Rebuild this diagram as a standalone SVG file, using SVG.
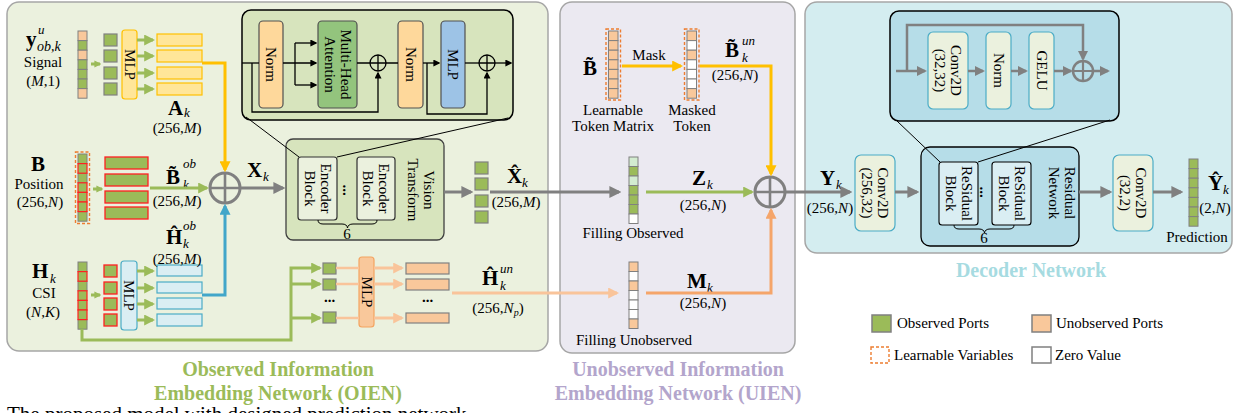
<svg xmlns="http://www.w3.org/2000/svg" width="1239" height="413" viewBox="0 0 1239 413">
<defs>
<style>
text{font-family:'Liberation Serif','Times New Roman',serif;font-size:15px;fill:#000}
.c{text-anchor:middle}
.bd{font-weight:bold;font-size:21px}
.sm{font-style:italic;font-size:13px}
.it{font-style:italic}
.ttl{font-weight:bold;font-size:20px;text-anchor:middle}
.cg{fill:#9bbb59;stroke:#808080;stroke-width:1}
.cp{fill:#f9c89b;stroke:#808080;stroke-width:1}
.cw{fill:#fff;stroke:#808080;stroke-width:1}
.cl{fill:#d3ecd0;stroke:#808080;stroke-width:1}
.cr{fill:#9bbb59;stroke:#ff2020;stroke-width:1.2}
.dash{fill:none;stroke:#ed7d31;stroke-width:1.4;stroke-dasharray:3 2}
.sq{fill:#9bbb59;stroke:#808080;stroke-width:1.2}
.sqr{fill:#9bbb59;stroke:#ff2020;stroke-width:1.3}
.ln{fill:none;stroke-width:3}
.lg{stroke:#9bbb59}
.ly{stroke:#ffc000}
.lb{stroke:#41a6c9}
.lp{stroke:#f9c49a}
.lo{stroke:#f5a56a}
.lgr{stroke:#808080}
.lk{fill:none;stroke:#000;stroke-width:1.3}
.zl{fill:none;stroke:#000;stroke-width:1}
.box{stroke:#505050;stroke-width:1.2}
.plus{fill:none;stroke:#808080;stroke-width:2.6}
</style>
<marker id="mg" viewBox="0 0 10 10" refX="8" refY="5" markerWidth="11" markerHeight="11" markerUnits="userSpaceOnUse" orient="auto"><path d="M0,0L10,5L0,10z" fill="#9bbb59"/></marker>
<marker id="mgs" viewBox="0 0 10 10" refX="8" refY="5" markerWidth="7" markerHeight="8" markerUnits="userSpaceOnUse" orient="auto"><path d="M0,0L10,5L0,10z" fill="#9bbb59"/></marker>
<marker id="my" viewBox="0 0 10 10" refX="8" refY="5" markerWidth="11" markerHeight="11" markerUnits="userSpaceOnUse" orient="auto"><path d="M0,0L10,5L0,10z" fill="#ffc000"/></marker>
<marker id="mb" viewBox="0 0 10 10" refX="8" refY="5" markerWidth="11" markerHeight="11" markerUnits="userSpaceOnUse" orient="auto"><path d="M0,0L10,5L0,10z" fill="#41a6c9"/></marker>
<marker id="mp" viewBox="0 0 10 10" refX="8" refY="5" markerWidth="11" markerHeight="11" markerUnits="userSpaceOnUse" orient="auto"><path d="M0,0L10,5L0,10z" fill="#f9c49a"/></marker>
<marker id="mo" viewBox="0 0 10 10" refX="8" refY="5" markerWidth="11" markerHeight="11" markerUnits="userSpaceOnUse" orient="auto"><path d="M0,0L10,5L0,10z" fill="#f5a56a"/></marker>
<marker id="mgr" viewBox="0 0 10 10" refX="8" refY="5" markerWidth="12" markerHeight="12" markerUnits="userSpaceOnUse" orient="auto"><path d="M0,0L10,5L0,10z" fill="#808080"/></marker>
<marker id="mgr2" viewBox="0 0 10 10" refX="8" refY="5" markerWidth="10" markerHeight="10" markerUnits="userSpaceOnUse" orient="auto"><path d="M0,0L10,5L0,10z" fill="#808080"/></marker>
<marker id="mk" viewBox="0 0 10 10" refX="8" refY="5" markerWidth="7" markerHeight="7" markerUnits="userSpaceOnUse" orient="auto"><path d="M0,0L10,5L0,10z" fill="#000"/></marker>
</defs>

<g id="panels">
<rect id="oien-panel" x="7" y="2" width="541" height="349" rx="12" fill="#ebf1de" stroke="#a6a6a6" stroke-width="1.5"/>
<rect id="uien-panel" x="560" y="2" width="235" height="351" rx="12" fill="#ebe9f1" stroke="#a6a6a6" stroke-width="1.5"/>
<rect id="decoder-panel" x="805" y="2" width="427" height="251" rx="12" fill="#d4edf0" stroke="#a6a6a6" stroke-width="1.5"/>
</g>

<g id="titles">
<text class="ttl" x="278" y="376" style="fill:#9bbb59">Observed Information</text>
<text class="ttl" x="278" y="400" style="fill:#9bbb59">Embedding Network (OIEN)</text>
<text class="ttl" x="678" y="376" style="fill:#b3a5cc">Unobserved Information</text>
<text class="ttl" x="678" y="400" style="fill:#b3a5cc">Embedding Network (UIEN)</text>
<text class="ttl" x="1031" y="277" style="fill:#a6dbe1">Decoder Network</text>
</g>

<g id="signal">
<text class="bd" x="26" y="46">y</text>
<text class="sm" x="38" y="34">u</text>
<text class="sm" x="37" y="51" style="font-size:14px">ob,k</text>
<text class="c" x="43" y="67">Signal</text>
<text class="c" x="43" y="86">(<tspan class="it">M</tspan>,1)</text>
<rect class="cp" x="78" y="31" width="9" height="9.6"/>
<rect class="cg" x="78" y="40.6" width="9" height="9.6"/>
<rect class="cp" x="78" y="50.2" width="9" height="9.6"/>
<rect class="cg" x="78" y="59.8" width="9" height="9.6"/>
<rect class="cg" x="78" y="69.4" width="9" height="9.6"/>
<rect class="cg" x="78" y="79" width="9" height="9.6"/>
<rect class="cp" x="78" y="88.6" width="9" height="9.6"/>
</g>

<g id="signal-mlp">
<rect class="sq" x="104" y="34" width="13" height="12"/>
<rect class="sq" x="104" y="50" width="13" height="12"/>
<rect class="sq" x="104" y="67" width="13" height="12"/>
<rect class="sq" x="104" y="83" width="13" height="12"/>
<rect x="122" y="30" width="15" height="69" rx="3" fill="#ffe699" stroke="#ffc000" stroke-width="1.2"/>
<g transform="translate(129.5,64.5) rotate(90)"><text class="c" y="5">MLP</text></g>
<rect x="157" y="34" width="45" height="12" fill="#ffe699" stroke="#ffc000" stroke-width="1.2"/>
<rect x="157" y="50" width="45" height="12" fill="#ffe699" stroke="#ffc000" stroke-width="1.2"/>
<rect x="157" y="67" width="45" height="12" fill="#ffe699" stroke="#ffc000" stroke-width="1.2"/>
<rect x="157" y="83" width="45" height="12" fill="#ffe699" stroke="#ffc000" stroke-width="1.2"/>
<text class="bd" x="168" y="115">A</text>
<text class="sm" x="184" y="117">k</text>
<text class="c" x="177" y="133">(256,<tspan class="it">M</tspan>)</text>
</g>

<g id="position">
<text class="bd c" x="38" y="171">B</text>
<text class="c" x="39" y="189">Position</text>
<text class="c" x="40" y="207">(256,<tspan class="it">N</tspan>)</text>
<rect class="cg" x="78" y="154" width="9" height="9.6"/>
<rect class="cg" x="78" y="173.2" width="9" height="9.6"/>
<rect class="cg" x="78" y="211.6" width="9" height="9.6"/>
<rect class="cr" x="78" y="163.6" width="9" height="9.6"/>
<rect class="cr" x="78" y="182.8" width="9" height="9.6"/>
<rect class="cr" x="78" y="192.4" width="9" height="9.6"/>
<rect class="cr" x="78" y="202" width="9" height="9.6"/>
<rect class="dash" x="75.5" y="152" width="14" height="71.5"/>
<rect class="sqr" x="105" y="157" width="43" height="12"/>
<rect class="sqr" x="105" y="174" width="43" height="12"/>
<rect class="sqr" x="105" y="191" width="43" height="12"/>
<rect class="sqr" x="105" y="207" width="43" height="12"/>
<text class="bd" x="166" y="184">B̃</text>
<text class="sm" x="183" y="168">ob</text>
<text class="sm" x="183" y="189">k</text>
<text class="c" x="177" y="206">(256,<tspan class="it">M</tspan>)</text>
</g>

<g id="csi">
<text class="bd" x="32" y="278">H</text>
<text class="sm" x="50" y="283">k</text>
<text class="c" x="44" y="298">CSI</text>
<text class="c" x="43" y="317">(<tspan class="it">N</tspan>,<tspan class="it">K</tspan>)</text>
<rect class="cg" x="78" y="262" width="9" height="9.6"/>
<rect class="cg" x="78" y="281.2" width="9" height="9.6"/>
<rect class="cg" x="78" y="319.6" width="9" height="9.6"/>
<rect class="cr" x="78" y="271.6" width="9" height="9.6"/>
<rect class="cr" x="78" y="290.8" width="9" height="9.6"/>
<rect class="cr" x="78" y="300.4" width="9" height="9.6"/>
<rect class="cr" x="78" y="310" width="9" height="9.6"/>
</g>

<g id="csi-mlp">
<rect class="sqr" x="104" y="265" width="13" height="12"/>
<rect class="sqr" x="104" y="282" width="13" height="12"/>
<rect class="sqr" x="104" y="298" width="13" height="12"/>
<rect class="sqr" x="104" y="314" width="13" height="12"/>
<rect x="121" y="261" width="16" height="69" rx="3" fill="#daeef3" stroke="#4bacc6" stroke-width="1.2"/>
<g transform="translate(129,295.5) rotate(90)"><text class="c" y="5">MLP</text></g>
<rect x="157" y="265" width="45" height="11" fill="#daeef3" stroke="#4bacc6" stroke-width="1.2"/>
<rect x="157" y="282" width="45" height="11" fill="#daeef3" stroke="#4bacc6" stroke-width="1.2"/>
<rect x="157" y="298" width="45" height="11" fill="#daeef3" stroke="#4bacc6" stroke-width="1.2"/>
<rect x="157" y="314" width="45" height="12" fill="#daeef3" stroke="#4bacc6" stroke-width="1.2"/>
<text class="bd" x="166" y="244">Ĥ</text>
<text class="sm" x="183" y="230">ob</text>
<text class="sm" x="183" y="248">k</text>
<text class="c" x="177" y="264">(256,<tspan class="it">M</tspan>)</text>
</g>

<g id="unobs-mlp">
<rect class="sq" x="323" y="263" width="13" height="11"/>
<rect class="sq" x="323" y="279" width="13" height="11"/>
<rect class="sq" x="323" y="312" width="13" height="11"/>
<text class="c" x="329.5" y="302" style="font-weight:bold">...</text>
<rect x="359" y="257" width="15" height="70" rx="3" fill="#f9c89b" stroke="#f4a460" stroke-width="1.2"/>
<g transform="translate(366.5,292) rotate(90)"><text class="c" y="5">MLP</text></g>
<rect x="406" y="263" width="43" height="11" fill="#f9c89b" stroke="#808080" stroke-width="1.2"/>
<rect x="406" y="279" width="43" height="11" fill="#f9c89b" stroke="#808080" stroke-width="1.2"/>
<rect x="406" y="313" width="43" height="10" fill="#f9c89b" stroke="#808080" stroke-width="1.2"/>
<text class="c" x="427.5" y="302" style="font-weight:bold">...</text>
<text class="bd" x="482" y="285">Ĥ</text>
<text class="sm" x="500" y="273">un</text>
<text class="sm" x="500" y="290">k</text>
<text class="c" x="498" y="313">(256,<tspan class="it">N</tspan><tspan class="sm" style="font-size:10px" dy="3">p</tspan><tspan dy="-3">)</tspan></text>
</g>

<g id="sum1">
<circle cx="225" cy="188" r="15" fill="none" stroke="#808080" stroke-width="3"/>
<path class="plus" d="M210,188H240M225,173V203"/>
<text class="bd" x="247" y="177">X</text>
<text class="sm" x="263" y="181">k</text>
</g>

<g id="encoder-detail">
<rect x="242" y="10" width="271" height="110" rx="9" fill="#d7e4bd" stroke="#000" stroke-width="1.5"/>
<rect class="box" x="259" y="21" width="24" height="87" rx="4" fill="#fed89b"/>
<rect class="box" x="318" y="21" width="39" height="87" rx="4" fill="#93c47d"/>
<rect class="box" x="398" y="21" width="25" height="87" rx="4" fill="#fed89b"/>
<rect class="box" x="441" y="21" width="24" height="87" rx="4" fill="#9dc3e6"/>
<g transform="translate(271,64.5) rotate(90)"><text class="c" y="5">Norm</text></g>
<g transform="translate(337.5,64.5) rotate(90)"><text class="c" y="-3">Multi-Head</text><text class="c" y="13">Attention</text></g>
<g transform="translate(410.5,64.5) rotate(90)"><text class="c" y="5">Norm</text></g>
<g transform="translate(453,64.5) rotate(90)"><text class="c" y="5">MLP</text></g>
<circle cx="378" cy="63" r="8" fill="none" stroke="#000" stroke-width="1.3"/>
<path class="lk" d="M370,63H386M378,55V71"/>
<circle cx="487" cy="63" r="8" fill="none" stroke="#000" stroke-width="1.3"/>
<path class="lk" d="M479,63H495M487,55V71"/>
</g>

<g id="vision-transform">
<rect x="286" y="139" width="158" height="101" rx="7" fill="#d7e4bd" stroke="#404040" stroke-width="1.3"/>
<rect x="298" y="157" width="39" height="63" rx="3" fill="#ebf1de" stroke="#303030" stroke-width="1.2"/>
<rect x="357" y="157" width="38" height="63" rx="3" fill="#ebf1de" stroke="#303030" stroke-width="1.2"/>
<g transform="translate(317.5,188.5) rotate(90)"><text class="c" y="-3">Encoder</text><text class="c" y="13">Block</text></g>
<g transform="translate(376,188.5) rotate(90)"><text class="c" y="-3">Encoder</text><text class="c" y="13">Block</text></g>
<g transform="translate(347,190) rotate(90)"><text class="c" y="4" style="font-weight:bold">...</text></g>
<g transform="translate(421,190) rotate(90)"><text class="c" y="-3">Vision</text><text class="c" y="13">Transform</text></g>
<path d="M318,220Q318,224 323,224L342,224Q347,224 347.5,228Q348,224 353,224L372,224Q377,224 377,220" fill="none" stroke="#000" stroke-width="1"/>
<text class="c" x="347" y="239">6</text>
</g>

<g id="x-hat">
<rect class="sq" x="475" y="162" width="13" height="12"/>
<rect class="sq" x="475" y="178" width="13" height="12"/>
<rect class="sq" x="475" y="195" width="13" height="12"/>
<rect class="sq" x="475" y="211" width="13" height="12"/>
<text class="bd" x="507" y="183">X̂</text>
<text class="sm" x="522" y="187">k</text>
<text class="c" x="516" y="207">(256,<tspan class="it">M</tspan>)</text>
</g>

<g id="learnable-token">
<text class="bd" x="583" y="75">B̃</text>
<rect class="cp" x="608.5" y="31" width="9.5" height="9.6"/>
<rect class="cp" x="608.5" y="40.6" width="9.5" height="9.6"/>
<rect class="cp" x="608.5" y="50.2" width="9.5" height="9.6"/>
<rect class="cp" x="608.5" y="59.8" width="9.5" height="9.6"/>
<rect class="cp" x="608.5" y="69.4" width="9.5" height="9.6"/>
<rect class="cp" x="608.5" y="79" width="9.5" height="9.6"/>
<rect class="cp" x="608.5" y="88.6" width="9.5" height="9.6"/>
<rect class="dash" x="606" y="29" width="14.5" height="71"/>
<text class="c" x="613" y="115">Learnable</text>
<text class="c" x="613" y="131">Token Matrix</text>
<text class="c" x="649" y="60">Mask</text>
</g>

<g id="masked-token">
<rect class="cp" x="687" y="31" width="9.5" height="9.6"/>
<rect class="cw" x="687" y="40.6" width="9.5" height="9.6"/>
<rect class="cp" x="687" y="50.2" width="9.5" height="9.6"/>
<rect class="cw" x="687" y="59.8" width="9.5" height="9.6"/>
<rect class="cw" x="687" y="69.4" width="9.5" height="9.6"/>
<rect class="cw" x="687" y="79" width="9.5" height="9.6"/>
<rect class="cp" x="687" y="88.6" width="9.5" height="9.6"/>
<rect class="dash" x="684.5" y="29" width="14.5" height="71"/>
<text class="c" x="692" y="115">Masked</text>
<text class="c" x="692" y="131">Token</text>
<text class="bd" x="725" y="57">B̃</text>
<text class="sm" x="742" y="45">un</text>
<text class="sm" x="742" y="62">k</text>
<text class="c" x="735" y="80">(256,<tspan class="it">N</tspan>)</text>
</g>

<g id="filling-observed">
<rect class="cl" x="629" y="157" width="9" height="9.5"/>
<rect class="cg" x="629" y="166.5" width="9" height="9.5"/>
<rect class="cl" x="629" y="176" width="9" height="9.5"/>
<rect class="cg" x="629" y="185.5" width="9" height="9.5"/>
<rect class="cg" x="629" y="195" width="9" height="9.5"/>
<rect class="cg" x="629" y="204.5" width="9" height="9.5"/>
<rect class="cw" x="629" y="214" width="9" height="9.5"/>
<text class="c" x="633" y="238">Filling Observed</text>
<text class="bd" x="692" y="185">Z</text>
<text class="sm" x="707" y="189">k</text>
<text class="c" x="703" y="210">(256,<tspan class="it">N</tspan>)</text>
</g>

<g id="filling-unobserved">
<rect class="cp" x="629" y="262" width="9" height="9.5"/>
<rect class="cw" x="629" y="271.5" width="9" height="9.5"/>
<rect class="cp" x="629" y="281" width="9" height="9.5"/>
<rect class="cw" x="629" y="290.5" width="9" height="9.5"/>
<rect class="cw" x="629" y="300" width="9" height="9.5"/>
<rect class="cw" x="629" y="309.5" width="9" height="9.5"/>
<rect class="cp" x="629" y="319" width="9" height="9.5"/>
<text class="c" x="634" y="345">Filling Unobserved</text>
<text class="bd" x="687" y="288">M</text>
<text class="sm" x="707" y="292">k</text>
<text class="c" x="703" y="308">(256,<tspan class="it">N</tspan>)</text>
</g>

<g id="sum2">
<circle cx="770" cy="192" r="15" fill="none" stroke="#808080" stroke-width="3"/>
<path class="plus" d="M755,192H785M770,177V207"/>
<text class="bd" x="820" y="185">Y</text>
<text class="sm" x="836" y="189">k</text>
<text class="c" x="830" y="213">(256,<tspan class="it">N</tspan>)</text>
</g>

<g id="residual-detail">
<rect x="890" y="11" width="229" height="110" rx="9" fill="#b6dde8" stroke="#000" stroke-width="1.5"/>
<rect x="928" y="32" width="40" height="77" rx="5" fill="#ebf1de" stroke="#4bacc6" stroke-width="1.2"/>
<rect x="986" y="32" width="25" height="77" rx="5" fill="#ebf1de" stroke="#4bacc6" stroke-width="1.2"/>
<rect x="1029" y="32" width="25" height="77" rx="5" fill="#ebf1de" stroke="#4bacc6" stroke-width="1.2"/>
<g transform="translate(948,70.5) rotate(90)"><text class="c" y="-3">Conv2D</text><text class="c" y="13">(32,32)</text></g>
<g transform="translate(998.5,70.5) rotate(90)"><text class="c" y="5">Norm</text></g>
<g transform="translate(1041.5,70.5) rotate(90)"><text class="c" y="5">GELU</text></g>
<circle cx="1083" cy="71" r="10" fill="none" stroke="#808080" stroke-width="2.5"/>
<path d="M1073,71H1093M1083,61V81" fill="none" stroke="#808080" stroke-width="2.2"/>
</g>

<g id="conv-in">
<rect x="855" y="155" width="40" height="76" rx="6" fill="#ebf1de" stroke="#4bacc6" stroke-width="1.2"/>
<g transform="translate(875,193) rotate(90)"><text class="c" y="-3">Conv2D</text><text class="c" y="13">(256,32)</text></g>
</g>

<g id="residual-network">
<rect x="921" y="147" width="158" height="99" rx="9" fill="#b6dde8" stroke="#000" stroke-width="1.3"/>
<rect x="939" y="162" width="39" height="63" rx="3" fill="#daeef3" stroke="#000" stroke-width="1.1"/>
<rect x="992" y="162" width="39" height="63" rx="3" fill="#daeef3" stroke="#000" stroke-width="1.1"/>
<g transform="translate(958.5,193.5) rotate(90)"><text class="c" y="-3">ReSidual</text><text class="c" y="13">Block</text></g>
<g transform="translate(1011.5,193.5) rotate(90)"><text class="c" y="-3">ReSidual</text><text class="c" y="13">Block</text></g>
<g transform="translate(984,192) rotate(90)"><text class="c" y="4" style="font-weight:bold">...</text></g>
<g transform="translate(1062,193) rotate(90)"><text class="c" y="-3">Residual</text><text class="c" y="13">Network</text></g>
<path d="M954,225Q954,229 959,229L979,229Q984,229 984.5,233Q985,229 990,229L1009,229Q1014,229 1014,225" fill="none" stroke="#000" stroke-width="1"/>
<text class="c" x="984" y="243">6</text>
</g>

<g id="conv-out">
<rect x="1113" y="155" width="40" height="76" rx="6" fill="#ebf1de" stroke="#4bacc6" stroke-width="1.2"/>
<g transform="translate(1133,193) rotate(90)"><text class="c" y="-3">Conv2D</text><text class="c" y="13">(32,2)</text></g>
</g>

<g id="prediction">
<rect class="cg" x="1189" y="159" width="9" height="9.6"/>
<rect class="cg" x="1189" y="168.6" width="9" height="9.6"/>
<rect class="cg" x="1189" y="178.2" width="9" height="9.6"/>
<rect class="cg" x="1189" y="187.8" width="9" height="9.6"/>
<rect class="cg" x="1189" y="197.4" width="9" height="9.6"/>
<rect class="cg" x="1189" y="207" width="9" height="9.6"/>
<rect class="cg" x="1189" y="216.6" width="9" height="9.6"/>
<text class="bd" x="1208" y="190">Ŷ</text>
<text class="sm" x="1223" y="194">k</text>
<text class="c" x="1215" y="213">(2,<tspan class="it">N</tspan>)</text>
<text class="c" x="1197" y="242">Prediction</text>
</g>

<g id="legend">
<rect x="872" y="315" width="19" height="17" fill="#9bbb59" stroke="#808080" stroke-width="1.5"/>
<text x="897" y="328">Observed Ports</text>
<rect x="1032" y="315" width="19" height="17" fill="#f9c89b" stroke="#808080" stroke-width="1.5"/>
<text x="1056" y="328">Unobserved Ports</text>
<rect class="dash" x="871" y="347" width="18" height="16"/>
<text x="894" y="360">Learnable Variables</text>
<rect x="1032" y="347" width="19" height="16" fill="#fff" stroke="#808080" stroke-width="1.5"/>
<text x="1055" y="360">Zero Value</text>
</g>

<g id="connectors">
<path class="ln lg" d="M91,64H100" marker-end="url(#mgs)"/>
<path class="ln lg" d="M93,189H102" marker-end="url(#mgs)"/>
<path class="ln lg" d="M91,295H100" marker-end="url(#mgs)"/>
<path class="ln lg" d="M137,40H153" marker-end="url(#mg)"/>
<path class="ln lg" d="M137,56H153" marker-end="url(#mg)"/>
<path class="ln lg" d="M137,73H153" marker-end="url(#mg)"/>
<path class="ln lg" d="M137,89H153" marker-end="url(#mg)"/>
<path class="ln lg" d="M137,271H153" marker-end="url(#mg)"/>
<path class="ln lg" d="M137,288H153" marker-end="url(#mg)"/>
<path class="ln lg" d="M137,304H153" marker-end="url(#mg)"/>
<path class="ln lg" d="M137,320H153" marker-end="url(#mg)"/>
<path class="ln lg" d="M150,188H207" marker-end="url(#mg)"/>
<path class="ln lg" d="M82,329V340H291V268H320" marker-end="url(#mg)"/>
<path class="ln lg" d="M291,284H320" marker-end="url(#mg)"/>
<path class="ln lg" d="M291,318H320" marker-end="url(#mg)"/>
<path class="ln lg" d="M646,192H752" marker-end="url(#mg)"/>
<path class="ln ly" d="M202,63H225V170" marker-end="url(#my)"/>
<path class="ln lb" d="M202,295H225V206" marker-end="url(#mb)"/>
<path class="ln ly" d="M622,66H681" marker-end="url(#my)"/>
<path class="ln ly" d="M700,66H771V174" marker-end="url(#my)"/>
<path class="ln lp" style="stroke-width:2.5" d="M336,268H359M336,284H359M336,318H359"/>
<path class="ln lp" d="M374,268H402" marker-end="url(#mp)"/>
<path class="ln lp" d="M374,284H402" marker-end="url(#mp)"/>
<path class="ln lp" d="M374,318H402" marker-end="url(#mp)"/>
<path class="ln lp" d="M452,293H617" marker-end="url(#mp)"/>
<path class="ln lo" d="M646,293H771V210" marker-end="url(#mo)"/>
<path class="ln lgr" d="M240,188H283" marker-end="url(#mgr)"/>
<path class="ln lgr" d="M444,192H471" marker-end="url(#mgr)"/>
<path class="ln lgr" d="M490,192H619" marker-end="url(#mgr)"/>
<path class="ln lgr" d="M785,192H850" marker-end="url(#mgr)"/>
<path class="ln lgr" d="M895,192H917" marker-end="url(#mgr)"/>
<path class="ln lgr" d="M1079,192H1110" marker-end="url(#mgr)"/>
<path class="ln lgr" d="M1153,192H1181" marker-end="url(#mgr)"/>
<path class="ln lgr" style="stroke-width:2.5" d="M896,71H925" marker-end="url(#mgr2)"/>
<path class="ln lgr" style="stroke-width:2.5" d="M907,71V25H1083V59" marker-end="url(#mgr2)"/>
<path class="ln lgr" style="stroke-width:2.5" d="M968,71H983" marker-end="url(#mgr2)"/>
<path class="ln lgr" style="stroke-width:2.5" d="M1011,71H1026" marker-end="url(#mgr2)"/>
<path class="ln lgr" style="stroke-width:2.5" d="M1054,71H1071" marker-end="url(#mgr2)"/>
<path class="ln lgr" style="stroke-width:2.5" d="M1093,71H1108" marker-end="url(#mgr2)"/>
<path class="lk" d="M242,63H259"/>
<path class="lk" d="M252,63V112H378V73" marker-end="url(#mk)"/>
<path class="lk" d="M283,63H316" marker-end="url(#mk)"/>
<path class="lk" d="M295,43V85"/>
<path class="lk" d="M295,43H316" marker-end="url(#mk)"/>
<path class="lk" d="M295,85H316" marker-end="url(#mk)"/>
<path class="lk" d="M357,63H370M386,63H398"/>
<path class="lk" d="M423,63H439" marker-end="url(#mk)"/>
<path class="lk" d="M427,63V114H487V73" marker-end="url(#mk)"/>
<path class="lk" d="M465,63H479"/>
<path class="lk" d="M495,63H511" marker-end="url(#mk)"/>
<path class="zl" d="M246,117L299,157M508,118L337,157"/>
<path class="zl" d="M897,121L940,162M1110,120L978,162"/>
</g>

<text x="7" y="421" style="font-size:21px">The proposed model with designed prediction network</text>
</svg>
